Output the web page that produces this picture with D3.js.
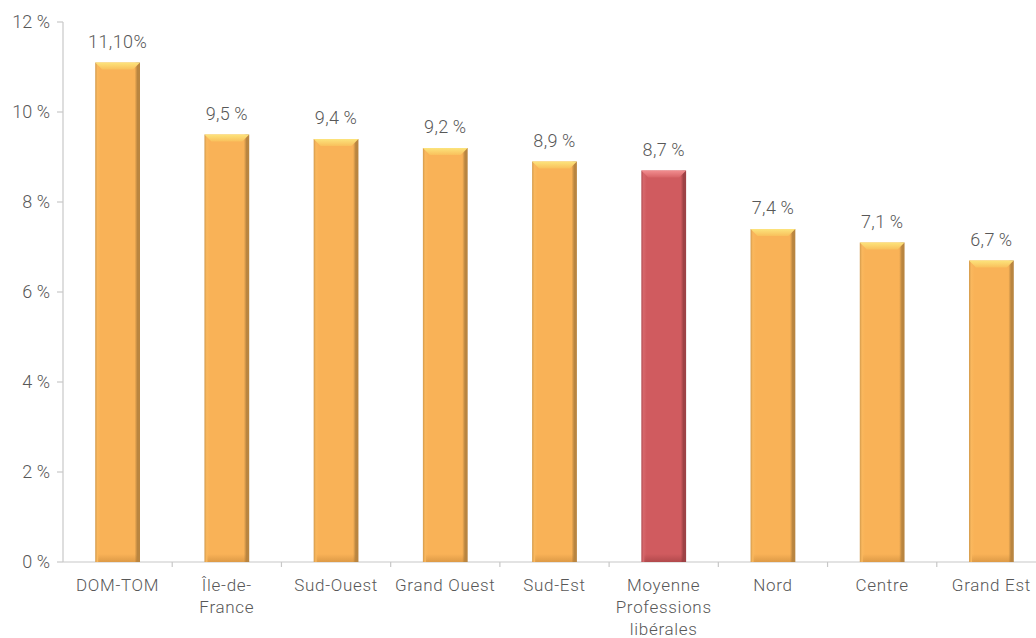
<!DOCTYPE html>
<html>
<head>
<meta charset="utf-8">
<script src="https://cdn.jsdelivr.net/npm/d3@7"></script>
<style>
  html, body { margin: 0; padding: 0; background: #fff; }
  svg { display: block; font-family: Roboto, "Noto Sans", sans-serif; }
</style>
</head>
<body>
<svg id="chart" width="1036" height="638"></svg>
<script>
// Regions and their rate
const regions = ["DOM-TOM", "Île-de-France", "Sud-Ouest", "Grand Ouest", "Sud-Est",
                 "Moyenne Professions libérales", "Nord", "Centre", "Grand Est"];
const regionLines = [["DOM-TOM"], ["Île-de-", "France"], ["Sud-Ouest"], ["Grand Ouest"], ["Sud-Est"],
                     ["Moyenne", "Professions", "libérales"], ["Nord"], ["Centre"], ["Grand Est"]];
const rates = [11.1, 9.5, 9.4, 9.2, 8.9, 8.7, 7.4, 7.1, 6.7];
const rateLabels = ["11,10%", "9,5\u2009%", "9,4\u2009%", "9,2\u2009%", "8,9\u2009%", "8,7\u2009%", "7,4\u2009%", "7,1\u2009%", "6,7\u2009%"];
const yTicks = [0, 2, 4, 6, 8, 10, 12];
const yTickLabels = ["0 %", "2 %", "4 %", "6 %", "8 %", "10 %", "12 %"];
const highlight = "Moyenne Professions libérales";

const svg = d3.select("#chart");
const plotLeft = 63, plotRight = 1046, plotTop = 22, plotBottom = 562;
const textColor = "#585858";

const x = d3.scaleBand().domain(regions).range([plotLeft, plotRight]).paddingInner(0.59).paddingOuter(0.295);
const xb = d3.scaleBand().domain(regions).range([plotLeft, plotRight]);
const y = d3.scaleLinear().domain([0, 12]).range([plotBottom, plotTop]);

// Gradients for the bevelled bars
const defs = svg.append("defs");
function bodyGrad(id, edge, edgeR, mid, light) {
  const g = defs.append("linearGradient").attr("id", id).attr("x1", 0).attr("x2", 1).attr("y1", 0).attr("y2", 0);
  [[0, edge], [0.05, light], [0.12, mid], [0.88, mid], [0.94, edgeR], [1, edgeR]].forEach(([o, c]) =>
    g.append("stop").attr("offset", o).attr("stop-color", c));
}
function capGrad(id, c1, c2) {
  const g = defs.append("linearGradient").attr("id", id).attr("x1", 0).attr("x2", 0).attr("y1", 0).attr("y2", 1);
  g.append("stop").attr("offset", 0).attr("stop-color", c1);
  g.append("stop").attr("offset", 1).attr("stop-color", c2);
}
bodyGrad("gOrange", "#D29A4C", "#B98540", "#F9B257", "#FAB85E");
bodyGrad("gRed", "#B14E52", "#9E4246", "#D05B5F", "#D6676B");
capGrad("cOrange", "#FCE47C", "#F9C05C");
capGrad("cRed", "#F28E90", "#D86467");
capGrad("bOrange", "rgba(170,110,40,0)", "rgba(170,110,40,0.35)");
capGrad("bRed", "rgba(120,40,40,0)", "rgba(120,40,40,0.35)");

// Y axis
svg.append("line").attr("x1", plotLeft).attr("x2", plotLeft).attr("y1", plotTop).attr("y2", plotBottom)
  .attr("stroke", "#c8c8c8").attr("stroke-width", 1.2);
svg.selectAll(".ytick").data(yTicks).join("line")
  .attr("x1", plotLeft - 6).attr("x2", plotLeft).attr("y1", d => y(d)).attr("y2", d => y(d))
  .attr("stroke", "#c8c8c8").attr("stroke-width", 1.2);
svg.selectAll(".ylab").data(yTicks).join("text")
  .attr("x", 50).attr("y", d => y(d)).attr("dy", "0.35em")
  .attr("text-anchor", "end").attr("font-size", 18).attr("font-weight", 300).attr("fill", textColor)
  .text((d, i) => yTickLabels[i]);

// X axis
svg.append("line").attr("x1", plotLeft).attr("x2", plotRight).attr("y1", plotBottom).attr("y2", plotBottom)
  .attr("stroke", "#c8c8c8").attr("stroke-width", 1.2);
svg.selectAll(".xtick").data(regions.slice(1)).join("line")
  .attr("x1", d => xb(d)).attr("x2", d => xb(d)).attr("y1", plotBottom).attr("y2", plotBottom + 5)
  .attr("stroke", "#c8c8c8").attr("stroke-width", 1.2);

// Bars
const bars = svg.selectAll(".bar").data(regions).join("g");
bars.append("rect")
  .attr("x", d => x(d)).attr("width", x.bandwidth())
  .attr("y", (d, i) => y(rates[i])).attr("height", (d, i) => plotBottom - y(rates[i]))
  .attr("fill", d => d === highlight ? "url(#gRed)" : "url(#gOrange)");
bars.append("rect")
  .attr("x", d => x(d) + 3).attr("width", x.bandwidth() - 6)
  .attr("y", plotBottom - 8).attr("height", 8)
  .attr("fill", d => d === highlight ? "url(#bRed)" : "url(#bOrange)");
bars.append("path")
  .attr("d", (d, i) => {
    const x0 = x(d), w = x.bandwidth(), t = y(rates[i]);
    return `M${x0},${t} L${x0 + w},${t} L${x0 + w - 7},${t + 7} L${x0 + 7},${t + 7} Z`;
  })
  .attr("fill", d => d === highlight ? "url(#cRed)" : "url(#cOrange)");

// Value labels
svg.selectAll(".val").data(regions).join("text")
  .attr("x", d => x(d) + x.bandwidth() / 2)
  .attr("y", (d, i) => y(rates[i]) - 15)
  .attr("text-anchor", "middle").attr("font-size", 18).attr("font-weight", 300)
  .attr("letter-spacing", 0.4).attr("fill", textColor)
  .text((d, i) => rateLabels[i]);

// Category labels
svg.selectAll(".cat").data(regions).join("text")
  .attr("x", d => xb(d) + xb.bandwidth() / 2)
  .attr("y", 591)
  .attr("text-anchor", "middle").attr("font-size", 17).attr("font-weight", 300)
  .attr("letter-spacing", 0.7).attr("fill", textColor)
  .each(function(d, i) {
    d3.select(this).selectAll("tspan").data(regionLines[i]).join("tspan")
      .attr("x", xb(d) + xb.bandwidth() / 2)
      .attr("dy", (l, j) => j === 0 ? 0 : 22)
      .text(l => l);
  });
</script>
</body>
</html>
